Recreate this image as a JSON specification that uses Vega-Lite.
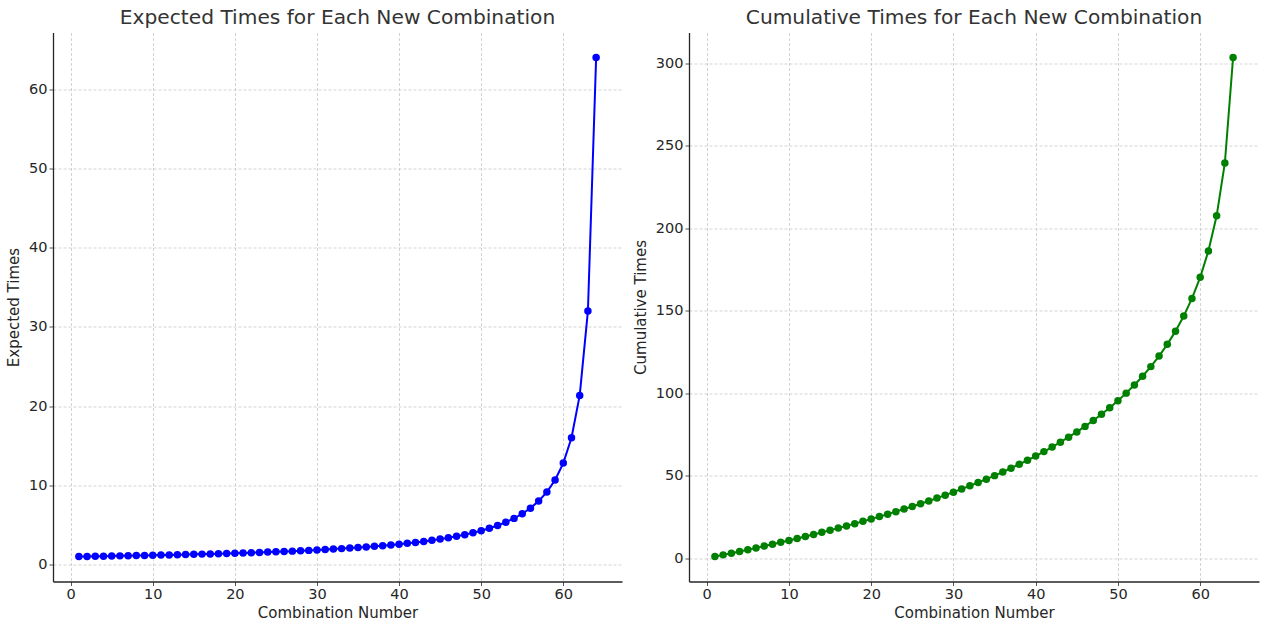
{"$schema":"https://vega.github.io/schema/vega-lite/v6.json","background":"white","padding":{"left":6,"top":7.5,"right":8,"bottom":5},"bounds":"flush","spacing":67,
"datasets":{"runs":[
{"n":1,"expected":1,"cumulative":1},{"n":2,"expected":1.016,"cumulative":2.016},{"n":3,"expected":1.032,"cumulative":3.048},{"n":4,"expected":1.049,"cumulative":4.097},{"n":5,"expected":1.067,"cumulative":5.164},{"n":6,"expected":1.085,"cumulative":6.249},{"n":7,"expected":1.103,"cumulative":7.352},{"n":8,"expected":1.123,"cumulative":8.475},{"n":9,"expected":1.143,"cumulative":9.618},{"n":10,"expected":1.164,"cumulative":10.782},{"n":11,"expected":1.185,"cumulative":11.967},{"n":12,"expected":1.208,"cumulative":13.175},{"n":13,"expected":1.231,"cumulative":14.406},{"n":14,"expected":1.255,"cumulative":15.661},{"n":15,"expected":1.28,"cumulative":16.941},{"n":16,"expected":1.306,"cumulative":18.247},{"n":17,"expected":1.333,"cumulative":19.58},{"n":18,"expected":1.362,"cumulative":20.942},{"n":19,"expected":1.391,"cumulative":22.333},{"n":20,"expected":1.422,"cumulative":23.755},{"n":21,"expected":1.455,"cumulative":25.21},{"n":22,"expected":1.488,"cumulative":26.698},{"n":23,"expected":1.524,"cumulative":28.222},{"n":24,"expected":1.561,"cumulative":29.783},{"n":25,"expected":1.6,"cumulative":31.383},{"n":26,"expected":1.641,"cumulative":33.024},{"n":27,"expected":1.684,"cumulative":34.708},{"n":28,"expected":1.73,"cumulative":36.438},{"n":29,"expected":1.778,"cumulative":38.216},{"n":30,"expected":1.829,"cumulative":40.045},{"n":31,"expected":1.882,"cumulative":41.927},{"n":32,"expected":1.939,"cumulative":43.866},{"n":33,"expected":2,"cumulative":45.866},{"n":34,"expected":2.065,"cumulative":47.931},{"n":35,"expected":2.133,"cumulative":50.064},{"n":36,"expected":2.207,"cumulative":52.271},{"n":37,"expected":2.286,"cumulative":54.557},{"n":38,"expected":2.37,"cumulative":56.927},{"n":39,"expected":2.462,"cumulative":59.389},{"n":40,"expected":2.56,"cumulative":61.949},{"n":41,"expected":2.667,"cumulative":64.616},{"n":42,"expected":2.783,"cumulative":67.399},{"n":43,"expected":2.909,"cumulative":70.308},{"n":44,"expected":3.048,"cumulative":73.356},{"n":45,"expected":3.2,"cumulative":76.556},{"n":46,"expected":3.368,"cumulative":79.924},{"n":47,"expected":3.556,"cumulative":83.48},{"n":48,"expected":3.765,"cumulative":87.245},{"n":49,"expected":4,"cumulative":91.245},{"n":50,"expected":4.267,"cumulative":95.512},{"n":51,"expected":4.571,"cumulative":100.083},{"n":52,"expected":4.923,"cumulative":105.006},{"n":53,"expected":5.333,"cumulative":110.339},{"n":54,"expected":5.818,"cumulative":116.157},{"n":55,"expected":6.4,"cumulative":122.557},{"n":56,"expected":7.111,"cumulative":129.668},{"n":57,"expected":8,"cumulative":137.668},{"n":58,"expected":9.143,"cumulative":146.811},{"n":59,"expected":10.667,"cumulative":157.478},{"n":60,"expected":12.8,"cumulative":170.278},{"n":61,"expected":16,"cumulative":186.278},{"n":62,"expected":21.333,"cumulative":207.611},{"n":63,"expected":32,"cumulative":239.611},{"n":64,"expected":64,"cumulative":303.611}
]},
"config":{"view":{"stroke":null},"font":"DejaVu Sans",
"title":{"fontSize":20.2,"fontWeight":"normal","color":"#333333","font":"DejaVu Sans","anchor":"middle","offset":4},
"axis":{"labelFont":"DejaVu Sans","titleFont":"DejaVu Sans","labelFontSize":14.5,"titleFontSize":15,"titleFontWeight":"normal","labelColor":"#262626","titleColor":"#262626","domainColor":"#262626","domainWidth":1.3,"tickColor":"#555555","tickSize":4,"tickWidth":1,"grid":true,"gridColor":"#c8c8c8","gridDash":[3,2],"gridWidth":0.8,"labelPadding":2,"labelFlush":false}},
"hconcat":[
{"width":569,"height":549,"title":"Expected Times for Each New Combination","data":{"name":"runs"},
"mark":{"type":"line","color":"#0000ff","strokeWidth":2,"point":{"filled":true,"color":"#0000ff","size":56,"opacity":1}},
"encoding":{"x":{"field":"n","type":"quantitative","scale":{"domain":[-2.15,67.15],"nice":false,"zero":false},"axis":{"values":[0,10,20,30,40,50,60],"title":"Combination Number","titlePadding":4}},
"y":{"field":"expected","type":"quantitative","scale":{"domain":[-2.15,67.15],"nice":false,"zero":false},"axis":{"values":[0,10,20,30,40,50,60],"title":"Expected Times","titlePadding":7}}}},
{"width":570,"height":549,"title":"Cumulative Times for Each New Combination","data":{"name":"runs"},
"mark":{"type":"line","color":"#008000","strokeWidth":2,"point":{"filled":true,"color":"#008000","size":56,"opacity":1}},
"encoding":{"x":{"field":"n","type":"quantitative","scale":{"domain":[-2.15,67.15],"nice":false,"zero":false},"axis":{"values":[0,10,20,30,40,50,60],"title":"Combination Number","titlePadding":4}},
"y":{"field":"cumulative","type":"quantitative","scale":{"domain":[-14.13,318.74],"nice":false,"zero":false},"axis":{"values":[0,50,100,150,200,250,300],"title":"Cumulative Times","titlePadding":7}}}}
]}
